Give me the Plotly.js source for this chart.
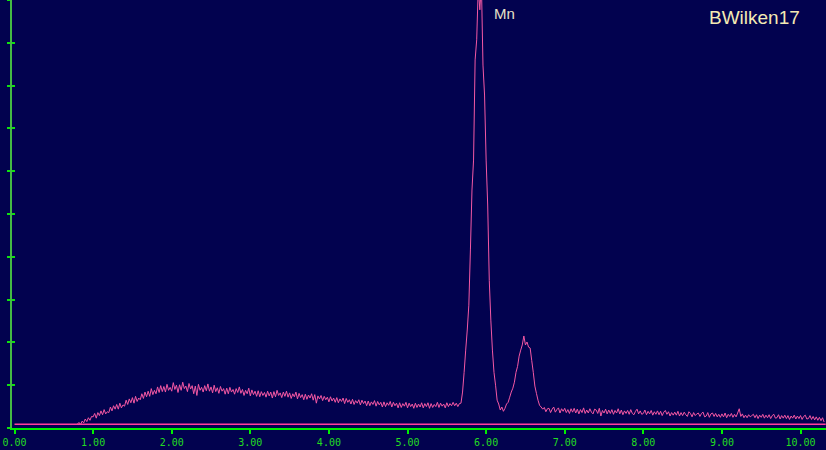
<!DOCTYPE html>
<html>
<head>
<meta charset="utf-8">
<script src="https://cdn.plot.ly/plotly-3.0.1.min.js"></script>
<style>
  html, body { margin: 0; padding: 0; background: #02024F; }
  #chart { width: 826px; height: 450px; }
</style>
</head>
<body>
<div id="chart"></div>
<script>
// Spectrum: energy axis starts at 0.80 keV, one channel every 0.02 keV
const energyStart = 0.80;
const energyStep = 0.02;
const counts = [
  9, 13, 8, 16, 12,
  21, 15, 24, 18, 27,
  26, 34, 23, 36, 29,
  40, 31, 43, 33, 38,
  36, 49, 40, 52, 44,
  55, 44, 58, 47, 54,
  51, 65, 55, 68, 59,
  71, 58, 74, 62, 70,
  66, 80, 69, 84, 73,
  86, 74, 92, 78, 88,
  80, 96, 83, 99, 85,
  97, 84, 102, 88, 95,
  86, 106, 90, 100, 83,
  101, 88, 107, 92, 98,
  85, 104, 91, 99, 80,
  98, 76, 102, 88, 95,
  84, 99, 87, 103, 86,
  96, 82, 100, 85, 94,
  81, 97, 86, 92, 79,
  93, 80, 95, 84, 90,
  79, 92, 83, 96, 81,
  90, 76, 88, 80, 93,
  75, 89, 78, 86, 74,
  87, 73, 85, 76, 83,
  72, 86, 75, 84, 70,
  85, 73, 88, 76, 82,
  71, 84, 74, 86, 72,
  82, 69, 80, 73, 84,
  68, 81, 71, 78, 66,
  79, 67, 77, 70, 80,
  65, 78, 58, 75, 68,
  76, 64, 74, 66, 72,
  61, 73, 63, 70, 60,
  71, 59, 68, 62, 70,
  57, 69, 60, 66, 56,
  67, 55, 64, 58, 66,
  54, 65, 57, 63, 52,
  63, 52, 61, 55, 64,
  51, 62, 54, 60, 49,
  61, 50, 59, 53, 62,
  49, 60, 52, 58, 47,
  59, 48, 57, 51, 60,
  47, 58, 50, 56, 46,
  58, 48, 56, 49, 59,
  47, 57, 50, 59, 46,
  57, 48, 55, 50, 60,
  48, 58, 51, 56, 47,
  59, 50, 57, 52, 60,
  52, 58, 50, 57, 58,
  84, 130, 182, 229, 287,
  416, 556, 626, 860, 907,
  1030, 977, 1040, 848, 778,
  626, 521, 345, 252, 182,
  130, 100, 65, 56, 42,
  49, 39, 46, 56, 60,
  72, 84, 93, 107, 130,
  144, 168, 182, 194, 215,
  194, 201, 189, 187, 158,
  130, 98, 81, 65, 53,
  49, 44, 48, 38, 45,
  46, 36, 44, 49, 37,
  43, 47, 35, 45, 39,
  46, 36, 43, 34, 45,
  37, 46, 35, 44, 33,
  43, 36, 47, 34, 42,
  35, 45, 37, 33, 44,
  42, 34, 46, 28, 41,
  35, 44, 33, 42, 34,
  43, 32, 41, 35, 45,
  33, 42, 31, 40, 34,
  41, 32, 43, 34, 31,
  39, 44, 33, 40, 32,
  34, 42, 31, 39, 33,
  41, 30, 38, 32, 40,
  31, 39, 29, 37, 41,
  32, 38, 28, 36, 30,
  37, 30, 39, 28, 36,
  29, 37, 31, 27, 38,
  34, 26, 36, 29, 33,
  35, 27, 34, 37, 26,
  28, 36, 25, 33, 35,
  27, 34, 26, 32, 25,
  33, 26, 35, 24, 32,
  27, 34, 25, 32, 26,
  35, 45, 27, 33, 24,
  30, 24, 31, 26, 29,
  32, 24, 31, 22, 30,
  25, 32, 23, 30, 24,
  31, 22, 29, 32, 23,
  24, 31, 21, 29, 23,
  30, 22, 29, 20, 28,
  23, 30, 21, 28, 22,
  29, 20, 27, 30, 21,
  22, 29, 20, 27, 19,
  26, 18, 25, 17, 24,
  14
];

// Baseline marker line
const baselineX = [0.0, 10.32];
const baselineY = [9, 9];

// Labels
const peakLabel = "Mn";
const peakLabelPos = [6.24, 968];
const authorLabel = "BWilken17";

// Axis ticks
const xTickValues = [0, 1, 2, 3, 4, 5, 6, 7, 8, 9, 10];
const xTickLabels = ["0.00", "1.00", "2.00", "3.00", "4.00", "5.00", "6.00", "7.00", "8.00", "9.00", "10.00"];
const yTickValues = [0, 100, 200, 300, 400, 500, 600, 700, 800, 900, 1000];

const bg = "#02024F";
const green = "#00F000";

const traces = [
  {
    type: "scatter",
    mode: "lines",
    x: baselineX,
    y: baselineY,
    xaxis: "x",
    yaxis: "y2",
    line: { color: "#FF3C9E", width: 1.5 },
    hoverinfo: "skip",
    showlegend: false
  },
  {
    type: "scatter",
    mode: "lines",
    x0: energyStart,
    dx: energyStep,
    y: counts,
    line: { color: "#F458A4", width: 1, simplify: false },
    hoverinfo: "skip",
    showlegend: false
  }
];

const layout = {
  width: 826,
  height: 450,
  margin: { l: 12, r: 0, t: 0, b: 22, pad: 0 },
  paper_bgcolor: bg,
  plot_bgcolor: bg,
  showlegend: false,
  hovermode: false,
  xaxis: {
    range: [-0.032, 10.324],
    tickvals: xTickValues,
    ticktext: xTickLabels,
    ticks: "outside",
    ticklen: 4,
    tickwidth: 2,
    tickcolor: green,
    showline: true,
    linecolor: green,
    linewidth: 2,
    showgrid: false,
    zeroline: false,
    tickfont: { family: "DejaVu Sans Mono, monospace", size: 10, color: "#22DD22" },
    fixedrange: true
  },
  yaxis: {
    range: [0, 1000],
    tickvals: yTickValues,
    ticks: "outside",
    ticklen: 3,
    tickwidth: 2,
    tickcolor: "#10E010",
    showline: true,
    linecolor: "#44BB44",
    linewidth: 2,
    showgrid: false,
    zeroline: false,
    showticklabels: false,
    fixedrange: true
  },
  yaxis2: {
    overlaying: "y",
    side: "left",
    range: [0, 1000],
    tickvals: yTickValues,
    ticks: "inside",
    ticklen: 3,
    tickwidth: 2,
    tickcolor: "#10E010",
    showline: false,
    showgrid: false,
    zeroline: false,
    showticklabels: false,
    fixedrange: true
  },
  annotations: [
    {
      x: peakLabelPos[0], y: peakLabelPos[1], xref: "x", yref: "y",
      text: peakLabel, showarrow: false,
      xanchor: "center", yanchor: "middle",
      font: { family: "Liberation Sans, Arial, sans-serif", size: 15, color: "#E6E0C8" }
    },
    {
      x: 753 / 826, y: 1 - 18 / 450, xref: "paper", yref: "paper",
      text: authorLabel, showarrow: false,
      xanchor: "center", yanchor: "middle",
      font: { family: "Liberation Sans, Arial, sans-serif", size: 19, color: "#F4EAB4" }
    }
  ]
};

Plotly.newPlot("chart", traces, layout, { displayModeBar: false, staticPlot: true });
</script>
</body>
</html>
